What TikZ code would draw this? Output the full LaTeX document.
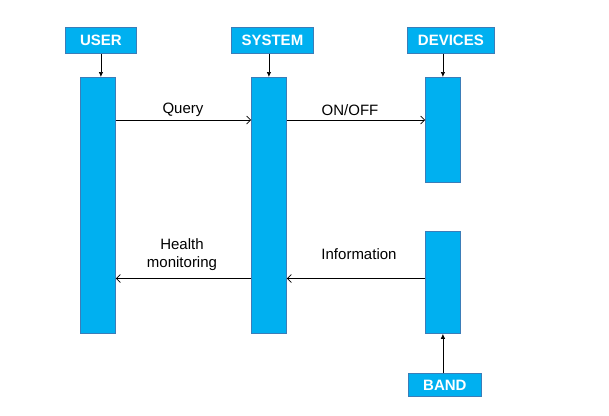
\documentclass[tikz,border=0pt]{standalone}
\usepackage{fontspec}
\setmainfont{Liberation Sans}
\usetikzlibrary{arrows.meta}
\definecolor{barfill}{HTML}{00B0F0}
\definecolor{barline}{HTML}{3B7DB8}
\tikzset{
  box/.style={draw=barline, fill=barfill, line width=0.8pt, anchor=north west, inner sep=0pt, text=white, font=\fontsize{15}{18}\selectfont\bfseries},
  barbox/.style={draw=barline, fill=barfill, line width=0.8pt, anchor=north west, inner sep=0pt},
  tip/.style={-{Latex[length=5pt,width=4.5pt]}, line width=0.7pt},
  msg/.style={-{Straight Barb[length=4pt,width=8pt]}, line width=0.7pt},
  lbl/.style={font=\fontsize{15}{18}\selectfont, align=center, inner sep=0pt}
}
\begin{document}
\begin{tikzpicture}[x=1pt,y=-1pt]
\useasboundingbox (0,0) rectangle (609,415);
% header boxes
\node[box, minimum width=71, minimum height=26] (ubox) at (65,27) {USER};
\node[box, minimum width=82, minimum height=26] (sbox) at (231,27) {SYSTEM};
\node[box, minimum width=87, minimum height=26] (dbox) at (407,27) {DEVICES};
\node[box, minimum width=73, minimum height=23] (band) at (408,373) {BAND};
% bars
\node[barbox, minimum width=35, minimum height=256] (ubar) at (80,77) {};
\node[barbox, minimum width=35, minimum height=256] (sbar) at (251,77) {};
\node[barbox, minimum width=35, minimum height=105] (dbar1) at (425,77) {};
\node[barbox, minimum width=35, minimum height=102] (dbar2) at (425,231) {};
% header arrows
\draw[tip] (ubox.south) -- (ubox.south |- ubar.north);
\draw[tip] (sbox.south -| sbar.north) -- (sbar.north);
\draw[tip] (dbox.south -| dbar1.north) -- (dbar1.north);
\draw[tip] (band.north -| dbar2.south) -- (dbar2.south);
% messages
\coordinate (yq) at (0,120);
\coordinate (yh) at (0,278.5);
\draw[msg] (ubar.east |- yq) -- (sbar.west |- yq);
\draw[msg] (sbar.east |- yq) -- (dbar1.west |- yq);
\draw[msg] (dbar2.west |- yh) -- (sbar.east |- yh);
\draw[msg] (sbar.west |- yh) -- (ubar.east |- yh);
% labels
\node[lbl] (lq) at (183,110) {Query};
\node[lbl] (lo) at (350,110) {ON/OFF};
\node[lbl] (li) at (359,254.5) {Information};
\node[lbl] (lh) at (182,255) {Health\\monitoring};
\end{tikzpicture}
\end{document}
